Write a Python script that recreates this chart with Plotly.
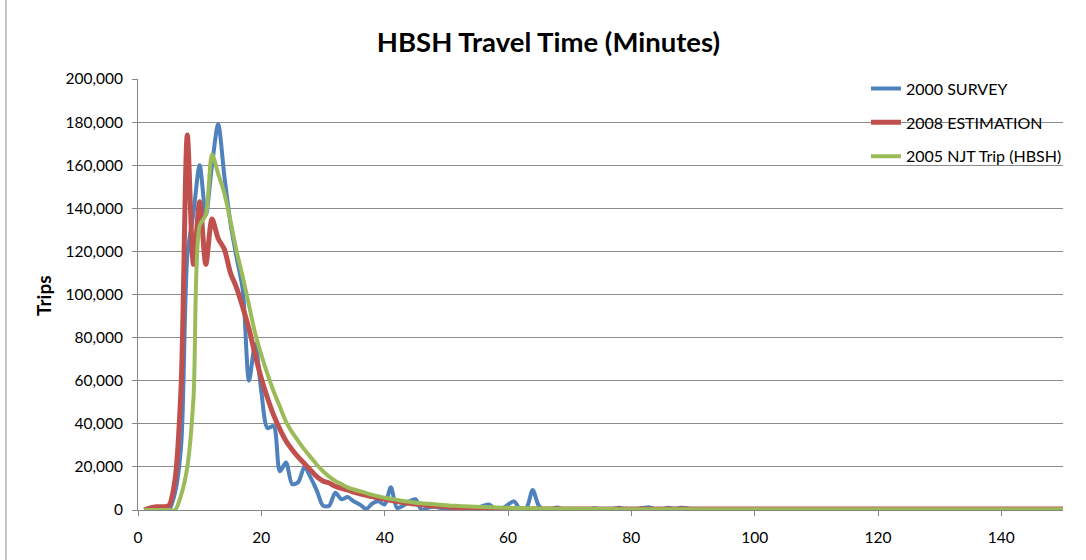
import plotly.graph_objects as go

minutes = list(range(1, 151))

survey_2000 = [
    0, 0, 0, 0, 0, 8000, 30000, 118000, 138000, 160000,
    137000, 160000, 179000, 155000, 133000, 117000, 102000, 60000, 77000, 55000,
    38000, 39000, 18000, 22000, 12000, 13000, 20000, 15000, 9000, 2000,
    2000, 8000, 5000, 6000, 4000, 2500, 500, 3000, 4000, 2500,
    10500, 1000, 2000, 4000, 5000, 0, 1000, 1500, 1000, 500,
    500, 500, 200, 500, 1000, 2000, 2500, 300, 500, 2500,
    4000, 200, 1000, 9300, 2000, 0, 500, 1200, 200, 300,
    400, 200, 300, 800, 300, 200, 500, 1000, 400, 200,
    500, 1000, 1200, 200, 300, 1000, 500, 1000, 800, 100,
    0, 100, 0, 200, 0, 100, 0, 0, 100, 0,
    0, 100, 0, 0, 100, 0, 0, 0, 100, 0,
    0, 0, 100, 0, 0, 0, 0, 100, 0, 0,
    0, 0, 0, 100, 0, 0, 0, 0, 0, 100,
    0, 0, 0, 0, 0, 0, 100, 0, 0, 0,
    0, 0, 0, 0, 0, 0, 0, 0, 0, 0,
]

estimation_2008 = [
    0, 1000, 1500, 1500, 2000, 14000, 58000, 174000, 114000, 143000,
    114000, 135000, 126000, 121000, 110000, 103000, 94000, 84000, 72000, 61000,
    52000, 44000, 37500, 32000, 28000, 24500, 21500, 18500, 15500, 13500,
    12500, 11000, 10000, 9300, 8300, 7500, 6800, 6200, 5500, 5000,
    4500, 3900, 3500, 3100, 2800, 2400, 2100, 1900, 1700, 1500,
    1300, 1100, 900, 800, 700, 650, 600, 600, 550, 550,
    500, 500, 500, 500, 500, 500, 500, 500, 500, 500,
    500, 500, 500, 500, 500, 500, 500, 500, 500, 500,
    500, 500, 500, 500, 500, 500, 500, 500, 500, 500,
    500, 500, 500, 500, 500, 500, 500, 500, 500, 500,
    500, 500, 500, 500, 500, 500, 500, 500, 500, 500,
    500, 500, 500, 500, 500, 500, 500, 500, 500, 500,
    500, 500, 500, 500, 500, 500, 500, 500, 500, 500,
    500, 500, 500, 500, 500, 500, 500, 500, 500, 500,
    500, 500, 500, 500, 500, 500, 500, 500, 500, 500,
]

njt_2005 = [
    0, 0, 0, 0, 0, 0, 7000, 20000, 52000, 132000,
    137000, 165000, 156000, 147000, 134000, 120000, 108000, 95000, 82000, 72000,
    63000, 55000, 48000, 41000, 36000, 32000, 28000, 24500, 21000, 18000,
    15500, 13500, 12000, 10500, 9500, 8700, 7800, 7000, 6300, 5700,
    5200, 4700, 4200, 3800, 3400, 3100, 2900, 2700, 2400, 2200,
    2000, 1900, 1700, 1600, 1500, 1400, 1300, 1200, 1100, 1000,
    950, 900, 850, 800, 750, 700, 650, 600, 600, 550,
    550, 500, 500, 500, 450, 450, 450, 400, 400, 400,
    400, 400, 400, 350, 350, 350, 350, 350, 350, 350,
    300, 300, 300, 300, 300, 300, 300, 300, 300, 300,
    300, 300, 300, 300, 300, 300, 300, 300, 300, 300,
    300, 300, 300, 300, 300, 300, 300, 300, 300, 300,
    300, 300, 300, 300, 300, 300, 300, 300, 300, 300,
    300, 300, 300, 300, 300, 300, 300, 300, 300, 300,
    300, 300, 300, 300, 300, 300, 300, 300, 300, 300,
]

series_names = ["2000 SURVEY", "2008 ESTIMATION", "2005 NJT Trip (HBSH)"]
series_values = [survey_2000, estimation_2008, njt_2005]
series_colors = ["#4F81BD", "#C0504D", "#9BBB59"]
series_widths = [4, 5, 4]

x_ticks = [0, 20, 40, 60, 80, 100, 120, 140]
y_ticks = [0, 20000, 40000, 60000, 80000, 100000, 120000, 140000, 160000, 180000, 200000]
y_tick_labels = ["0", "20,000", "40,000", "60,000", "80,000", "100,000", "120,000",
                 "140,000", "160,000", "180,000", "200,000"]

FONT = "Lato, 'Open Sans', sans-serif"

fig = go.Figure()
for i, (name, vals, col, w) in enumerate(zip(series_names, series_values, series_colors, series_widths)):
    fig.add_trace(go.Scatter(
        x=minutes, y=vals, name=name, mode="lines",
        line=dict(color=col, width=w, shape="spline", smoothing=0.8),
        legendgroup=f"g{i}",
    ))

fig.update_layout(
    width=1086, height=560,
    margin=dict(l=138, r=23, t=79, b=50),
    paper_bgcolor="white", plot_bgcolor="white",
    font=dict(family=FONT, size=15.5, color="black"),
    title=dict(text="<b>HBSH Travel Time (Minutes)</b>", x=0.505, xanchor="center",
               y=0.925, yanchor="middle", font=dict(family=FONT, size=27.5, color="black")),
    showlegend=True,
    legend=dict(x=0.787, y=1.017, xanchor="left", yanchor="top",
                bgcolor="rgba(0,0,0,0)", font=dict(family=FONT, size=16, color="black"),
                traceorder="grouped", tracegroupgap=10, itemwidth=30),
)

fig.update_xaxes(
    range=[0, 150], tickmode="array", tickvals=x_ticks, ticktext=[str(t) for t in x_ticks],
    showgrid=False, zeroline=False,
    showline=True, linecolor="#868686", linewidth=1,
    ticks="outside", ticklen=5, tickcolor="#868686",
    ticklabelstandoff=8,
    tickfont=dict(family=FONT, size=15.5, color="black"),
)
fig.update_yaxes(
    range=[0, 200000], tickmode="array", tickvals=y_ticks, ticktext=y_tick_labels,
    showgrid=True, gridcolor="#8C8C8C", gridwidth=1, zeroline=False,
    showline=True, linecolor="#868686", linewidth=1,
    ticks="outside", ticklen=5, tickcolor="#868686",
    ticklabelstandoff=6,
    tickfont=dict(family=FONT, size=15.5, color="black"),
)

fig.add_annotation(text="<b>Trips</b>", xref="paper", yref="paper",
                   x=(43 - 138) / 925, y=(510 - 296) / 431, showarrow=False,
                   textangle=-90, xanchor="center", yanchor="middle",
                   font=dict(family=FONT, size=19, color="black"))

fig.add_shape(type="line", xref="paper", yref="paper",
              x0=(6 - 138) / 925, x1=(6 - 138) / 925, y0=-50 / 431, y1=1 + 79 / 431,
              line=dict(color="#8C8C8C", width=1))

fig.write_html("out.html")
